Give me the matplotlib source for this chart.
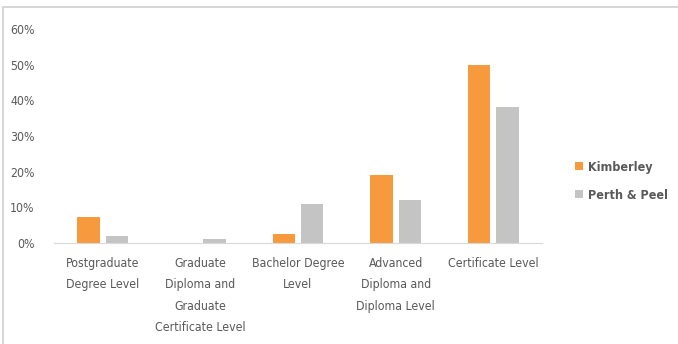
import matplotlib
matplotlib.use("Agg")
import matplotlib.pyplot as plt
from matplotlib.patches import Rectangle
import numpy as np

categories = [
    "Postgraduate\nDegree Level",
    "Graduate\nDiploma and\nGraduate\nCertificate Level",
    "Bachelor Degree\nLevel",
    "Advanced\nDiploma and\nDiploma Level",
    "Certificate Level",
]
kimberley = [7.3, 0.0, 2.5, 19.0, 50.0]
perth_peel = [2.0, 1.2, 11.0, 12.0, 38.0]
series_names = ["Kimberley", "Perth & Peel"]
yticks = [0, 10, 20, 30, 40, 50, 60]

plt.rcParams["font.family"] = ["DejaVu Sans"]
plt.rcParams["font.stretch"] = "condensed"
text_color = "#595959"

fig = plt.figure(figsize=(6.78, 3.44), dpi=100)
ax = fig.add_axes([54 / 678, 101 / 344, 488 / 678, 214 / 344])

x = np.arange(len(categories))
w = 0.23
off = 0.145
ax.bar(x - off, kimberley, w, color="#F79A3E", label=series_names[0])
ax.bar(x + off, perth_peel, w, color="#C4C4C4", label=series_names[1])

ax.set_xlim(-0.5, 4.5)
ax.set_ylim(0, 60)
ax.set_yticks(yticks)
ax.set_yticklabels([f"{v}%" for v in yticks], color=text_color, fontsize=8.8)
ax.set_xticks(x)
ax.set_xticklabels(categories, color=text_color, fontsize=8.8, linespacing=1.85, va="top")
ax.tick_params(axis="both", length=0)
ax.tick_params(axis="x", pad=10)
ax.tick_params(axis="y", pad=14)

for s in ["top", "right", "left"]:
    ax.spines[s].set_visible(False)
ax.spines["bottom"].set_color("#D9D9D9")

leg = fig.legend(loc="center left", bbox_to_anchor=(564 / 678, 1 - 181 / 344),
                 frameon=False, handlelength=0.6, handleheight=0.6, handletextpad=0.4,
                 labelspacing=1.2, prop={"weight": "bold", "size": 9, "stretch": "condensed"})
for t in leg.get_texts():
    t.set_color(text_color)

fig.patches.append(Rectangle((3 / 678, -0.1), 1.2, 1 - 7 / 344 + 0.1, transform=fig.transFigure,
                             fill=False, edgecolor="#D0D0D0", linewidth=1.2))

fig.savefig("out.png", dpi=100)
